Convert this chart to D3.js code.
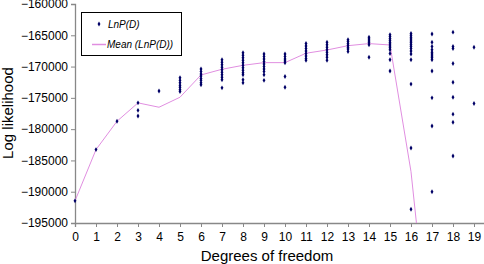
<!DOCTYPE html>
<html>
<head>
<meta charset="utf-8">
<script src="https://cdn.jsdelivr.net/npm/d3@7"></script>
<style>
  body { margin: 0; background: #fff; }
  #chart { width: 484px; height: 264px; }
  text { font-family: "Liberation Sans", Arial, sans-serif; }
</style>
</head>
<body>
<div id="chart"></div>
<script>
// degrees of freedom on x, log likelihood on y
const dfValues = [0, 1, 2, 3, 4, 5, 6, 7, 8, 9, 10, 11, 12, 13, 14, 15, 16, 17, 18, 19];

// LnP(D) runs, one list per degree of freedom
const lnpRuns = [
  [-191460],
  [-183270],
  [-178740],
  [-175800, -177000, -177900],
  [-173900],
  [-171800, -172200, -172600, -173000, -173300, -173700, -174000],
  [-170400, -170800, -171200, -171500, -171900, -172200, -172600, -172900],
  [-168900, -169300, -169700, -170100, -170500, -170900, -171300, -171700, -172100, -173400],
  [-167800, -168200, -168600, -169000, -169400, -169800, -170200, -170600, -171000, -171300, -172100, -172600],
  [-168000, -168400, -168800, -169200, -169600, -170000, -170400, -170800, -171300, -172200],
  [-168000, -168400, -168800, -169100, -169400, -171600, -173300],
  [-166300, -166700, -167100, -167500, -167900, -168300, -168700, -169000],
  [-166100, -166500, -166900, -167300, -167700, -168100, -168500, -169000],
  [-165700, -166000, -166300, -166600, -166900, -167200, -167600],
  [-165300, -165600, -165900, -166200, -166500, -168500],
  [-164900, -165200, -165500, -165800, -166100, -166400, -166700, -167000, -167300, -167900, -168900, -170700],
  [-164700, -165000, -165300, -165600, -165900, -166200, -166500, -166800, -167100, -167500, -168000, -168900, -172800, -183000, -192800],
  [-164800, -166100, -166800, -167300, -167700, -168000, -168300, -168600, -168900, -170700, -175000, -179500, -190000],
  [-164500, -166800, -167100, -169500, -172500, -174900, -177600, -178900, -184300],
  [-166900, -175900]
];

// Mean (LnP(D)) per degree of freedom (16 and 17 fall below the axis)
const meanValues = [-191460, -183270, -178740, -175800, -176500, -174900, -171340, -170430,
  -169800, -169370, -169370, -167870, -167350, -166660, -166330, -166550, -186800, -218500];

const yTicks = [-160000, -165000, -170000, -175000, -180000, -185000, -190000, -195000];

function renderChart() {
  const width = 484, height = 264;
  const svg = d3.select("#chart").append("svg")
    .attr("width", width)
    .attr("height", height);

  const x = d3.scaleLinear().domain([0, 19.5]).range([75, 484.5]);
  const y = d3.scaleLinear().domain([-195000, -160000]).range([223, 4]);

  svg.append("clipPath").attr("id", "plot-clip")
    .append("rect")
    .attr("x", x(0)).attr("y", y(-160000))
    .attr("width", x(19.5) - x(0)).attr("height", y(-195000) - y(-160000));

  // axes
  const yAxis = svg.append("g")
    .attr("transform", `translate(${x(0)},0)`)
    .call(d3.axisLeft(y).tickValues(yTicks).tickSize(4).tickPadding(3).tickFormat(d3.format("d")));
  const xAxis = svg.append("g")
    .attr("transform", `translate(0,${y(-195000)})`)
    .call(d3.axisBottom(x).tickValues(dfValues).tickSize(4).tickPadding(5).tickFormat(d3.format("d")));

  [yAxis, xAxis].forEach(a => {
    a.select(".domain").attr("stroke", "#888").attr("stroke-width", 1.3);
    a.selectAll(".tick line").attr("stroke", "#888");
    a.selectAll(".tick text")
      .attr("fill", "#000")
      .style("font-size", "12px")
      .style("font-family", "'Liberation Sans', Arial, sans-serif");
  });

  // mean line
  const meanData = meanValues.map((v, i) => ({ df: dfValues[i], v }));
  svg.append("path")
    .datum(meanData)
    .attr("clip-path", "url(#plot-clip)")
    .attr("fill", "none")
    .attr("stroke", "#e08ee0")
    .attr("stroke-width", 1)
    .attr("d", d3.line().x(d => x(d.df)).y(d => y(d.v)));

  // points
  const points = [];
  lnpRuns.forEach((runs, i) => runs.forEach(v => points.push({ df: dfValues[i], v })));
  const diamond = d3.symbol().type(d3.symbolDiamond).size(7);
  svg.append("g")
    .selectAll("path")
    .data(points)
    .join("path")
    .attr("transform", d => `translate(${x(d.df)},${y(d.v)})`)
    .attr("d", diamond)
    .attr("fill", "#000066");

  // legend
  const lg = svg.append("g");
  lg.append("rect")
    .attr("x", 81.5).attr("y", 12.5)
    .attr("width", 100).attr("height", 43)
    .attr("fill", "#fff").attr("stroke", "#000").attr("stroke-width", 1);
  lg.append("path")
    .attr("transform", "translate(99,24)")
    .attr("d", diamond)
    .attr("fill", "#000066");
  lg.append("text")
    .attr("x", 108).attr("y", 27.5)
    .style("font-size", "10px").style("font-style", "italic")
    .text("LnP(D)");
  lg.append("line")
    .attr("x1", 92).attr("x2", 106).attr("y1", 44.5).attr("y2", 44.5)
    .attr("stroke", "#e08ee0").attr("stroke-width", 1.5);
  lg.append("text")
    .attr("x", 107).attr("y", 48)
    .style("font-size", "10px").style("font-style", "italic")
    .text("Mean (LnP(D))");

  // axis titles
  svg.append("text")
    .attr("x", 267).attr("y", 261)
    .attr("text-anchor", "middle")
    .style("font-size", "15px")
    .text("Degrees of freedom");
  svg.append("text")
    .attr("transform", "rotate(-90)")
    .attr("x", -113).attr("y", 13)
    .attr("text-anchor", "middle")
    .style("font-size", "15px")
    .text("Log likelihood");
}

document.addEventListener("DOMContentLoaded", renderChart);
</script>
</body>
</html>
